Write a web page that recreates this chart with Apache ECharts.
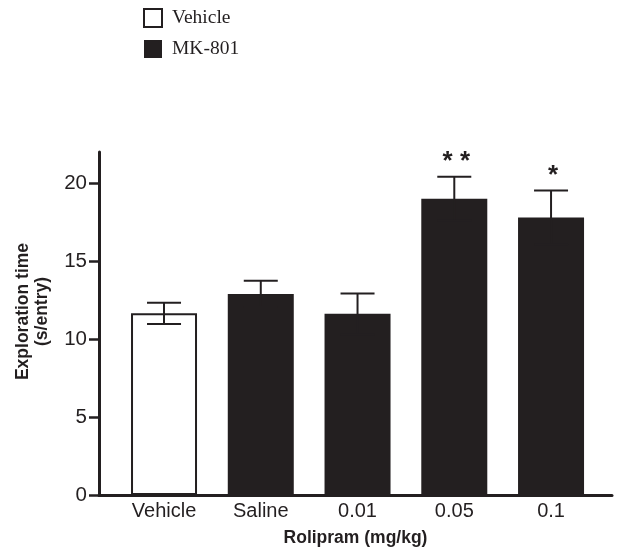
<!DOCTYPE html>
<html><head><meta charset="utf-8">
<script src="https://cdn.jsdelivr.net/npm/echarts@6/dist/echarts.min.js"></script>
<style>html,body{margin:0;padding:0;background:#fff}#c{width:618px;height:555px}</style>
</head><body><div id="c"></div>
<script>
const categories = ['Vehicle', 'Saline', '0.01', '0.05', '0.1'];
const groups = ['Vehicle', 'MK-801', 'MK-801', 'MK-801', 'MK-801'];
const means = [11.65, 12.9, 11.62, 19.0, 17.8];
const sems = [0.68, 0.84, 1.31, 1.41, 1.73];
const marks = ['', '', '', '* *', '*'];
const yTicks = [0, 5, 10, 15, 20];
const seriesNames = ['Vehicle', 'MK-801'];

const ink = '#231f20';
const idx = categories.map((_, i) => i);
const chart = echarts.init(document.getElementById('c'), null, {renderer: 'canvas'});

function barData(name) {
  return idx.filter(i => groups[i] === name).map(i => [i, means[i]]);
}

const option = {
  animation: false,
  backgroundColor: '#fff',
  grid: {left: 99, right: 6, top: 152, bottom: 60},
  legend: {
    data: seriesNames, orient: 'vertical', left: 143, top: 8, padding: 0,
    itemWidth: 18, itemHeight: 18, itemGap: 11, icon: 'rect', selectedMode: false,
    textStyle: {fontFamily: 'Liberation Serif', fontSize: 19.5, color: ink, padding: [0, 0, 0, 5]}
  },
  xAxis: {
    type: 'value', min: -0.672, max: 4.63,
    splitLine: {show: false},
    axisLine: {show: true, onZero: false, lineStyle: {color: ink, width: 3}},
    axisTick: {show: false},
    axisLabel: {customValues: idx, formatter: v => categories[Math.round(v)] || '',
      fontFamily: 'Liberation Sans', fontSize: 20, color: ink, margin: 6},
    name: 'Rolipram (mg/kg)', nameLocation: 'middle', nameGap: 34,
    nameTextStyle: {fontFamily: 'Liberation Sans', fontWeight: 'bold', fontSize: 17.5, color: ink}
  },
  yAxis: {
    type: 'value', min: 0, max: 22, interval: 5,
    splitLine: {show: false},
    axisLine: {show: true, onZero: false, lineStyle: {color: ink, width: 3}},
    axisTick: {show: true, length: 10, customValues: yTicks, lineStyle: {color: ink, width: 2.5}},
    axisLabel: {customValues: yTicks, fontFamily: 'Liberation Sans', fontSize: 20.5, color: ink, margin: 12},
    name: 'Exploration time\n(s/entry)', nameLocation: 'middle', nameGap: 47, nameRotate: 90,
    nameTextStyle: {fontFamily: 'Liberation Sans', fontWeight: 'bold', fontSize: 17.5, lineHeight: 19, color: ink,
      padding: [0, 0, 0, 24]}
  },
  series: [
    {name: 'Vehicle', type: 'bar', data: barData('Vehicle'), barWidth: 66, barGap: '-100%',
      itemStyle: {color: '#fff', borderColor: ink, borderWidth: 2}},
    {name: 'MK-801', type: 'bar', data: barData('MK-801'), barWidth: 66, barGap: '-100%',
      itemStyle: {color: ink, borderColor: ink, borderWidth: 0}},
    {name: 'err', type: 'custom', z: 5,
      encode: {x: 0, y: 1},
      data: idx.map(i => [i, means[i], sems[i]]),
      renderItem: function (params, api) {
        const x = api.value(0), m = api.value(1), e = api.value(2);
        const top = api.coord([x, m + e]);
        const bot = api.coord([x, m - e]);
        const hw = 17;
        const st = {stroke: ink, lineWidth: 2};
        const children = [
          {type: 'line', shape: {x1: top[0], y1: top[1], x2: bot[0], y2: bot[1]}, style: st},
          {type: 'line', shape: {x1: top[0] - hw, y1: top[1], x2: top[0] + hw, y2: top[1]}, style: st},
          {type: 'line', shape: {x1: bot[0] - hw, y1: bot[1], x2: bot[0] + hw, y2: bot[1]}, style: st}
        ];
        const mk = marks[params.dataIndex];
        if (mk) {
          children.push({type: 'text', x: top[0] + 2, y: top[1] - 15,
            style: {text: mk, fontFamily: 'Liberation Sans', fontWeight: 'bold', fontSize: 26, fill: ink,
              align: 'center', verticalAlign: 'middle'}});
        }
        return {type: 'group', children: children};
      }
    }
  ]
};
chart.setOption(option);
</script>
</body></html>
